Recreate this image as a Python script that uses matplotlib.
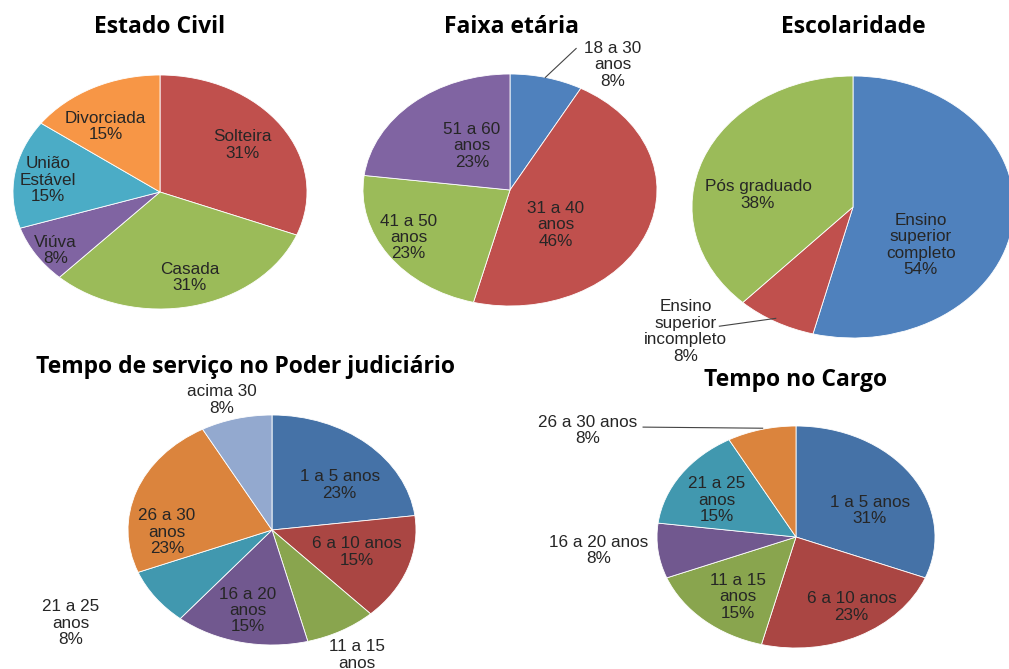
import matplotlib
matplotlib.use("Agg")
import matplotlib.pyplot as plt

# cores (paleta Excel 2007)
AZUL = "#4F81BD"
VERMELHO = "#C0504D"
VERDE = "#9BBB59"
ROXO = "#8064A2"
AQUA = "#4BACC6"
LARANJA = "#F79646"
AZUL_CLARO = "#95B3D7"

# dados
civil_cat = ["Solteira", "Casada", "Viúva", "União\nEstável", "Divorciada"]
civil_pct = [31, 31, 8, 15, 15]

idade_cat = ["18 a 30\nanos", "31 a 40\nanos", "41 a 50\nanos", "51 a 60\nanos"]
idade_pct = [8, 46, 23, 23]

escol_cat = ["Ensino\nsuperior\ncompleto", "Ensino\nsuperior\nincompleto", "Pós graduado"]
escol_pct = [54, 8, 38]

servico_cat = ["1 a 5 anos", "6 a 10 anos", "11 a 15\nanos", "16 a 20\nanos",
               "21 a 25\nanos", "26 a 30\nanos", "acima 30"]
servico_pct = [23, 15, 8, 15, 8, 23, 8]

cargo_cat = ["1 a 5 anos", "6 a 10 anos", "11 a 15\nanos", "16 a 20 anos",
             "21 a 25\nanos", "26 a 30 anos"]
cargo_pct = [31, 23, 15, 8, 15, 8]

W, H = 1009, 669
fig = plt.figure(figsize=(W / 100, H / 100), dpi=100)
fig.patch.set_facecolor("white")

FONTE = "Liberation Sans"
TITULO = "Open Sans"


def pizza(cx, cy, rx, ry, valores, nomes, cores, pos_rotulos, titulo, tpos,
          linhas=None):
    ax = fig.add_axes([(cx - rx) / W, 1 - (cy + ry) / H, 2 * rx / W, 2 * ry / H])
    ax.pie(valores, colors=cores, startangle=90, counterclock=False, radius=1,
           wedgeprops=dict(edgecolor="white", linewidth=0.6))
    ax.set_xlim(-1, 1)
    ax.set_ylim(-1, 1)
    ax.set_aspect("auto")
    ax.axis("off")
    for nome, v, (x, y) in zip(nomes, valores, pos_rotulos):
        ax.text(x, y, f"{nome}\n{v}%", ha="center", va="center", fontsize=12.3,
                family=FONTE, color="#262626", linespacing=1.12, clip_on=False)
    if linhas:
        for (x0, y0), (x1, y1) in linhas:
            ax.plot([x0, x1], [y0, y1], color="#444444", lw=0.8, clip_on=False)
    fig.text(tpos[0] / W, 1 - tpos[1] / H, titulo, ha="center", va="center",
             fontsize=16.5, fontweight="bold", family=TITULO, color="black")


pizza(160, 192, 147, 117, civil_pct, civil_cat,
      [VERMELHO, VERDE, ROXO, AQUA, LARANJA],
      [(0.56, 0.40), (0.20, -0.73), (-0.71, -0.50), (-0.76, 0.10), (-0.37, 0.56)],
      "Estado Civil", (160, 27))

pizza(510, 190, 147, 116, idade_pct, idade_cat,
      [AZUL, VERMELHO, VERDE, ROXO],
      [(0.70, 1.08), (0.31, -0.30), (-0.69, -0.41), (-0.26, 0.38)],
      "Faixa etária", (512, 27),
      linhas=[((0.45, 1.22), (0.24, 0.97))])

pizza(853, 207, 161, 131, escol_pct, escol_cat,
      [AZUL, VERMELHO, VERDE],
      [(0.42, -0.29), (-1.04, -0.95), (-0.59, 0.09)],
      "Escolaridade", (853, 27),
      linhas=[((-0.83, -0.91), (-0.48, -0.85))])

pizza(272, 530, 144, 115, servico_pct, servico_cat,
      ["#4572A7", "#AA4643", "#89A54E", "#71588F", "#4198AF", "#DB843D", "#93A9CF"],
      [(0.47, 0.39), (0.59, -0.19), (0.59, -1.16), (-0.17, -0.70),
       (-1.40, -0.81), (-0.73, -0.02), (-0.35, 1.13)],
      "Tempo de serviço no Poder judiciário", (245, 367))

pizza(796, 537, 139, 111, cargo_pct, cargo_cat,
      ["#4572A7", "#AA4643", "#89A54E", "#71588F", "#4198AF", "#DB843D"],
      [(0.53, 0.24), (0.40, -0.63), (-0.42, -0.54), (-1.42, -0.12),
       (-0.57, 0.33), (-1.50, 0.96)],
      "Tempo no Cargo", (796, 380),
      linhas=[((-1.10, 0.99), (-0.24, 0.98))])

fig.savefig("out.png", dpi=100)
